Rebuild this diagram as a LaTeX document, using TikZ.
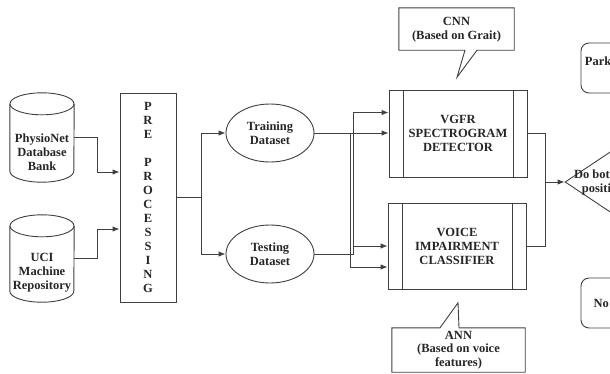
\documentclass[tikz,border=0pt]{standalone}
\usepackage{fontspec}
\setmainfont{Liberation Serif}
\usetikzlibrary{arrows.meta,calc,shapes.geometric}
\begin{document}
\begin{tikzpicture}[x=1pt,y=-1pt,
  ln/.style={draw=black!75,line width=0.9pt},
  arr/.style={ln,-{Latex[length=7pt,width=5.5pt]}},
  txt/.style={font=\bfseries\fontsize{12.5}{14}\selectfont,align=center,text=black!85,inner sep=0pt},
  boxn/.style={ln,rectangle,minimum width=#1},
]
\useasboundingbox (0,0) rectangle (610,373);
\clip (0,0) rectangle (610,373);
\fill[white] (0,0) rectangle (610,373);

% cylinders
\node[minimum width=64pt,minimum height=89pt,inner sep=0pt] (phys) at (42,137.5) {};
\node[minimum width=64pt,minimum height=87pt,inner sep=0pt] (uci) at (42,258.5) {};
\foreach \c in {phys,uci}{
  \draw[ln] ([yshift=-11pt]\c.north) ellipse [x radius=32pt, y radius=11pt];
  \draw[ln] ([yshift=-11pt]\c.north west) -- ([yshift=11pt]\c.south west)
     arc[start angle=180,end angle=360,x radius=32pt,y radius=11pt]
     -- ([yshift=-11pt]\c.north east);
}
\node[txt] (physT) at ($(phys)+(0,14.5)$) {PhysioNet\\Database\\Bank};
\node[txt] (uciT) at ($(uci)+(0,14)$) {UCI\\Machine\\Repository};

% preprocessing
\node[ln,minimum width=56pt,minimum height=209pt,inner sep=0pt] (pre) at (148,197.5) {};
\node[txt] (preT) at (pre) {P\\R\\E\\[14pt]P\\R\\O\\C\\E\\S\\S\\I\\N\\G};

% datasets
\node[ln,ellipse,minimum width=88pt,minimum height=58pt,inner sep=0pt] (train) at (270,133) {};
\node[txt] at (train) {Training\\Dataset};
\node[ln,ellipse,minimum width=88pt,minimum height=58pt,inner sep=0pt] (test) at (270,254) {};
\node[txt] at (test) {Testing\\Dataset};

% process boxes
\node[ln,minimum width=138pt,minimum height=87pt,inner sep=0pt] (vgfr) at (458,133.5) {};
\node[txt] at (vgfr) {VGFR\\SPECTROGRAM\\DETECTOR};
\node[ln,minimum width=138pt,minimum height=86pt,inner sep=0pt] (voice) at (457,246) {};
\node[txt] at (voice) {VOICE\\IMPAIRMENT\\CLASSIFIER};
\foreach \b in {vgfr,voice}{
  \draw[ln] ([xshift=14.5pt]\b.north west) -- ([xshift=14.5pt]\b.south west);
  \draw[ln] ([xshift=-14pt]\b.north east) -- ([xshift=-14pt]\b.south east);
}

% callouts
\node[minimum width=115pt,minimum height=42pt,inner sep=0pt] (cnn) at (456.5,29) {};
\draw[ln] (cnn.north west) -- (cnn.north east) -- (cnn.south east)
  -- ($(cnn.south)+(20.5,0)$) -- ($(cnn.south)+(0.5,27)$) -- ($(cnn.south)+(8.5,0)$)
  -- (cnn.south west) -- cycle;
\node[txt] at ($(cnn)+(0,1)$) {CNN\\(Based on Grait)};

\node[minimum width=133pt,minimum height=44pt,inner sep=0pt] (ann) at (458.5,350) {};
\draw[ln] (ann.south west) -- (ann.north west) -- ($(ann.north)+(-18.5,0)$)
  -- ($(ann.north)+(-0.5,-25)$) -- ($(ann.north)+(0.5,0)$) -- (ann.north east)
  -- (ann.south east) -- cycle;
\node[txt,font=\bfseries\fontsize{12.5}{13.5}\selectfont] at (ann) {ANN\\(Based on voice\\features)};

% decision and outcomes
\node[ln,diamond,minimum width=150pt,minimum height=100pt,inner sep=0pt] (dia) at (640,182) {};
\node[txt] (diaT) at (605.5,182.5) {Do both are\\positive?};
\node[ln,rounded corners=8pt,minimum width=114pt,minimum height=50pt,inner sep=0pt] (park) at (638,68) {};
\node[txt] at (park) {Parkinson's Disease\\Detected};
\node[ln,rounded corners=8pt,minimum width=107pt,minimum height=50pt,inner sep=0pt] (no) at (634.5,303) {};
\node[txt] at (no) {No Parkinson's};

% connectors
\draw[arr] (phys.east) -- ++(23,0) |- ($(pre.west)+(0,-25.5)$);
\draw[arr] (uci.east) -- ++(23,0) |- ($(pre.west)+(0,31.5)$);
\coordinate (jP) at ($(pre.east)+(25,0)$);
\draw[arr] (pre.east) -- (jP) |- (train.west);
\draw[arr] (jP) |- (test.west);

\coordinate (jA) at ($(train.east)+(36,0)$);
\coordinate (jB) at ($(test.east)+(39,0)$);
\draw[arr] (train.east) -- (train.east -| vgfr.west);
\draw[arr] (jA) |- ($(voice.west)+(0,21)$);
\draw[arr] (test.east) -- (jB) |- ($(vgfr.west)+(0,-21)$);
\draw[arr] (jB |- voice.west) -- (voice.west);

\coordinate (jC) at ($(vgfr.east)+(18,0)$);
\draw[ln] (vgfr.east) -- (jC) -- (jC |- voice.east) -- (voice.east);
\draw[arr] (jC |- dia.west) -- (dia.west);
\end{tikzpicture}
\end{document}
